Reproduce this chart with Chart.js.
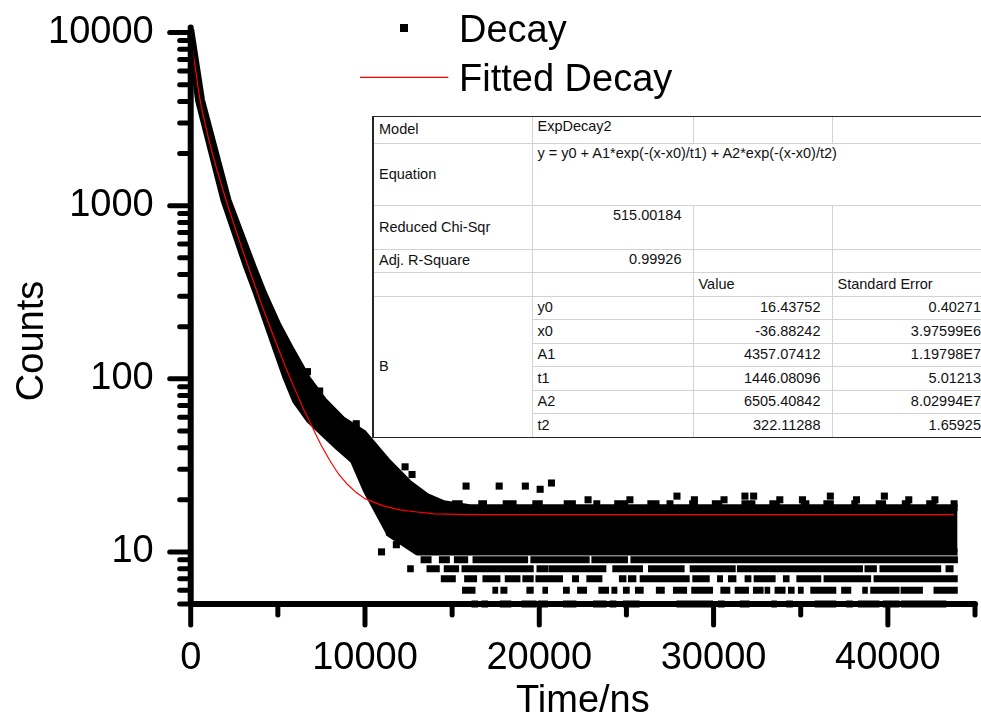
<!DOCTYPE html>
<html>
<head>
<meta charset="utf-8">
<title>Decay fit</title>
<script src="https://cdn.jsdelivr.net/npm/chart.js@4.4.1/dist/chart.umd.min.js"></script>
<style>
  html, body { margin:0; padding:0; background:#ffffff; }
  #stage { position:relative; width:981px; height:727px; overflow:hidden; background:#ffffff; }
  #chart { position:absolute; left:0; top:0; }
  #fitBox { position:absolute; left:372px; top:116px; background:#ffffff;
            border-left:2px solid #262626; border-top:1px solid #262626; border-bottom:1px solid #262626; }
  #fitTable { border-collapse:collapse; table-layout:fixed; border-style:hidden; width:618px;
              font-family:"Liberation Sans", Arial, sans-serif; font-size:14.5px; color:#111; }
  #fitTable td { border:1px solid #d2d2d2; padding:0 5px; white-space:nowrap; overflow:visible; line-height:17px; vertical-align:middle; }
  #fitTable td.top { vertical-align:top; padding-top:1px; }
  #fitTable td.num { text-align:right; padding-right:11px; }
</style>
</head>
<body>
<div id="stage">
  <canvas id="chart" width="981" height="727"></canvas>
  <div id="fitBox"><table id="fitTable"></table></div>
</div>
<script>
// ---------------- data ----------------
const xTickValues = [0, 10000, 20000, 30000, 40000];
const xMinorTickValues = [5000, 15000, 25000, 35000, 45000];
const yTickValues = [10, 100, 1000, 10000];
const yMinorTickValues = [5, 6, 7, 8, 9, 20, 30, 40, 50, 60, 70, 80, 90,
  200, 300, 400, 500, 600, 700, 800, 900, 2000, 3000, 4000, 5000, 6000, 7000, 8000, 9000];

// fitted decay curve (red)
const fitTime = [0, 100, 200, 300, 400, 500, 600, 800, 1000, 1200, 1500, 2000, 2500, 3000, 3500, 4000, 4500,
  5000, 5500, 6000, 6500, 7000, 7500, 8000, 8500, 9000, 9500, 10000, 11000, 12000, 13000, 14000, 16000, 43800];
const fitCounts = [10000, 8200, 6900, 5900, 5000, 4300, 3800, 3050, 2500, 2080, 1620, 1100, 770, 545, 390, 280, 205,
  152, 113, 86, 66, 52, 41, 33.5, 28, 24.5, 22, 20.3, 18.5, 17.5, 17, 16.6, 16.4, 16.4];

// decay data: upper edge of the dense cloud of points
const upperTime = [0, 620, 2140, 3584, 4175, 5000, 5780, 6700, 7615, 8700, 9910, 11227, 12500, 13500, 14500, 16000, 44000];
const upperCounts = [10400, 4074, 1076, 442, 313, 205, 146, 100, 75, 58, 48.5, 33.8, 25, 21, 19, 18, 18];
// decay data: lower edge of the dense cloud of points
const lowerTime = [0, 447, 1910, 3217, 3773, 4920, 5450, 6010, 6800, 7615, 8500, 9335, 10080, 11428, 13000, 44000];
const lowerCounts = [9700, 4074, 1076, 442, 313, 146, 103, 75, 58, 48.5, 40, 33.8, 22.7, 12.7, 10, 10];

// discrete count levels of the background: runs of points [from, to] in ns
const stripLevels = [19, 9, 8, 7, 6, 5];
const stripRuns = [
  [[15000,15600],[16500,17000],[17900,18700],[19600,20200],[21400,22100],[23100,23500],[24300,25100],[26200,26900],
   [27300,27700],[28600,29100],[29900,30500],[31600,32400],[33200,33800],[35000,35500],[36300,36900],[37900,38300],
   [39300,39900],[40800,41300],[42200,42800],[43600,44000]],
  [[13190,13820],[14240,14870],[15100,15920],[16170,19360],[19490,22890],[22990,25090],[25230,44020]],
  [[12420,12800],[13530,14290],[14520,15400],[15540,19680],[19840,20500],[20520,23850],[24190,25950],[26240,28340],
   [28630,31270],[31340,38570],[38660,39370],[39520,43060],[43310,43770]],
  [[14350,15210],[15690,16430],[16740,17770],[18020,18920],[19030,19680],[19780,21360],[21880,22280],[22700,23620],
   [24570,25000],[25090,25570],[25760,28630],[28780,29780],[30200,30540],[30830,31310],[31780,32170],[32300,33560],
   [33980,34360],[34750,36180],[36310,39040],[39180,44010]],
  [[15570,16340],[17310,17640],[17770,18170],[19260,19680],[20180,20500],[21360,21750],[22170,22740],[23390,24000],
   [24140,24480],[24800,25190],[25490,25990],[26690,27200],[27670,28480],[28720,29970],[30390,30960],[31210,32030],
   [32260,32870],[32930,33250],[33500,34130],[34270,34650],[34840,35170],[35550,37040],[37320,37900],[38530,38850],
   [38990,40670],[40730,42010],[42620,44010]],
  [[16110,16490],[16680,17060],[17730,18400],[18980,19840],[19930,20500],[21360,22130],[23080,23850],[24040,24420],
   [24800,25760],[27870,29970],[30250,30640],[31500,32070],[33310,33640],[34170,34550],[35800,37040],[37610,37990],
   [38280,39520],[39710,40670],[40760,43350]]
];

// isolated points
const outlierTime = [6700, 7400, 9500, 10950, 11400, 11800, 12300, 12650, 12700, 15800, 17700, 19200, 20050, 20700,
  22800, 25200, 27900, 28900, 30600, 31800, 32300, 33800, 35100, 36700, 38200, 39800, 41200, 42700];
const outlierCounts = [110, 85, 55, 10, 13, 11, 31, 11, 28, 24, 24, 24, 23, 25,
  20, 20, 21, 20, 20, 21, 21, 20, 20, 21, 20, 21, 20, 20];

// fit report table
const modelName = 'ExpDecay2';
const equationText = 'y = y0 + A1*exp(-(x-x0)/t1) + A2*exp(-(x-x0)/t2)';
const reducedChiSqr = '515.00184';
const adjRSquare = '0.99926';
const paramNames = ['y0', 'x0', 'A1', 't1', 'A2', 't2'];
const paramValues = ['16.43752', '-36.88242', '4357.07412', '1446.08096', '6505.40842', '322.11288'];
const paramErrors = ['0.40271', '3.97599E6', '1.19798E7', '5.01213', '8.02994E7', '1.65925'];

// ---------------- table ----------------
(function buildTable() {
  const colWidths = [158, 161, 139, 160];
  const rowHeights = [26, 62, 44, 23, 24, 23.5, 23.5, 23.5, 23.5, 23.5, 23.5];
  const t = document.getElementById('fitTable');
  let html = '<colgroup>' + colWidths.map(w => `<col style="width:${w}px">`).join('') + '</colgroup>';
  const tr = (i, cells) => `<tr style="height:${rowHeights[i]}px">${cells}</tr>`;
  html += tr(0, `<td>Model</td><td class="top">${modelName}</td><td></td><td></td>`);
  html += tr(1, `<td>Equation</td><td class="top" colspan="3">${equationText}</td>`);
  html += tr(2, `<td>Reduced Chi-Sqr</td><td class="top num">${reducedChiSqr}</td><td></td><td></td>`);
  html += tr(3, `<td>Adj. R-Square</td><td class="top num">${adjRSquare}</td><td></td><td></td>`);
  html += tr(4, `<td></td><td></td><td>Value</td><td>Standard Error</td>`);
  paramNames.forEach((p, i) => {
    const first = i === 0 ? `<td rowspan="${paramNames.length}">B</td>` : '';
    html += tr(5 + i, `${first}<td>${p}</td><td class="num">${paramValues[i]}</td><td class="num">${paramErrors[i]}</td>`);
  });
  t.innerHTML = html;
})();

// ---------------- chart ----------------
const FONT = '"Liberation Sans", Arial, sans-serif';
Chart.defaults.font.family = FONT;

function runsToPoints(runs, level) {
  const pts = [];
  runs.forEach(r => { pts.push({x: r[0], y: level}, {x: r[1], y: level}, {x: r[1], y: null}); });
  return pts;
}

const datasets = [];
datasets.push({
  label: 'Fitted Decay', data: fitTime.map((t, i) => ({x: t, y: fitCounts[i]})),
  borderColor: '#ff0000', borderWidth: 1.2, pointRadius: 0, fill: false, order: 0, clip: false
});
datasets.push({
  label: 'Decay', data: upperTime.map((t, i) => ({x: t, y: upperCounts[i]})),
  borderColor: '#000', backgroundColor: '#000', borderWidth: 7, pointRadius: 0, fill: '+1', order: 2, clip: false,
  borderJoinStyle: 'round'
});
datasets.push({
  label: 'Decay lower', data: lowerTime.map((t, i) => ({x: t, y: lowerCounts[i]})),
  borderColor: '#000', borderWidth: 7, pointRadius: 0, fill: false, order: 3, clip: false, borderJoinStyle: 'round'
});
stripLevels.forEach((lvl, k) => {
  datasets.push({
    label: 'level ' + lvl, data: runsToPoints(stripRuns[k], lvl),
    borderColor: '#000', borderWidth: 7, borderCapStyle: 'butt', pointRadius: 0, fill: false,
    spanGaps: false, order: 4, clip: false
  });
});
datasets.push({
  label: 'Decay outliers', data: outlierTime.map((t, i) => ({x: t, y: outlierCounts[i]})),
  showLine: false, pointStyle: 'rect', pointRadius: 5, pointBorderWidth: 0,
  pointBackgroundColor: '#000', order: 1, clip: false
});

const originPlugin = {
  id: 'originLook',
  afterDatasetsDraw(chart) {
    const {ctx, chartArea: a, scales} = chart;
    const xs = scales.x, ys = scales.y;
    ctx.save();
    ctx.strokeStyle = '#000';
    ctx.lineCap = 'round';
    const seg = (x1, y1, x2, y2) => { ctx.beginPath(); ctx.moveTo(x1, y1); ctx.lineTo(x2, y2); ctx.stroke(); };
    ctx.lineWidth = 5;
    yMinorTickValues.forEach(v => { const p = ys.getPixelForValue(v); seg(a.left - 11, p, a.left, p); });
    yTickValues.forEach(v => { const p = ys.getPixelForValue(v); seg(a.left - 21, p, a.left, p); });
    xMinorTickValues.forEach(v => { const p = xs.getPixelForValue(v); seg(p, a.bottom, p, a.bottom + 11); });
    xTickValues.forEach(v => { const p = xs.getPixelForValue(v); seg(p, a.bottom, p, a.bottom + 21); });
    ctx.lineWidth = 6;
    seg(a.left, a.top, a.left, a.bottom);
    seg(a.left, a.bottom, a.right, a.bottom);

    // axis titles
    ctx.fillStyle = '#000';
    ctx.font = '38px ' + FONT;
    ctx.textAlign = 'center';
    ctx.textBaseline = 'alphabetic';
    ctx.fillText('Time/ns', (a.left + a.right) / 2, 712);
    ctx.save();
    ctx.translate(43, 341);
    ctx.rotate(-Math.PI / 2);
    ctx.fillText('Counts', 0, 0);
    ctx.restore();

    // legend
    ctx.textAlign = 'left';
    ctx.fillRect(400, 24, 8, 8);
    ctx.fillText('Decay', 459, 42.3);
    ctx.strokeStyle = '#ff0000';
    ctx.lineWidth = 1.2;
    ctx.lineCap = 'butt';
    seg(360, 77.3, 448.3, 77.3);
    ctx.fillText('Fitted Decay', 459, 90.7);
    ctx.restore();
  }
};

new Chart(document.getElementById('chart'), {
  type: 'line',
  data: {datasets},
  options: {
    responsive: false,
    devicePixelRatio: 1,
    animation: false,
    events: [],
    layout: {padding: {top: 27.5, right: 6, left: 0, bottom: 0}},
    elements: {line: {tension: 0}},
    plugins: {legend: {display: false}, tooltip: {enabled: false}},
    scales: {
      x: {
        type: 'linear', min: 0, max: 45000,
        grid: {display: false, drawTicks: false}, border: {display: false},
        afterBuildTicks: s => { s.ticks = xTickValues.map(v => ({value: v})); },
        afterFit: s => { s.height = 123; s.paddingLeft = 0; s.paddingRight = 0; },
        ticks: {font: {size: 38, family: FONT}, color: '#000', padding: 32, maxRotation: 0, autoSkip: false,
                callback: v => String(v)}
      },
      y: {
        type: 'logarithmic', min: 5, max: 10700,
        grid: {display: false, drawTicks: false}, border: {display: false},
        afterBuildTicks: s => { s.ticks = yTickValues.map(v => ({value: v})); },
        afterFit: s => { s.width = 190.7; s.paddingTop = 0; s.paddingBottom = 0; },
        ticks: {font: {size: 38, family: FONT}, color: '#000', padding: 37, autoSkip: false,
                callback: v => String(v)}
      }
    }
  },
  plugins: [originPlugin]
});
</script>
</body>
</html>
